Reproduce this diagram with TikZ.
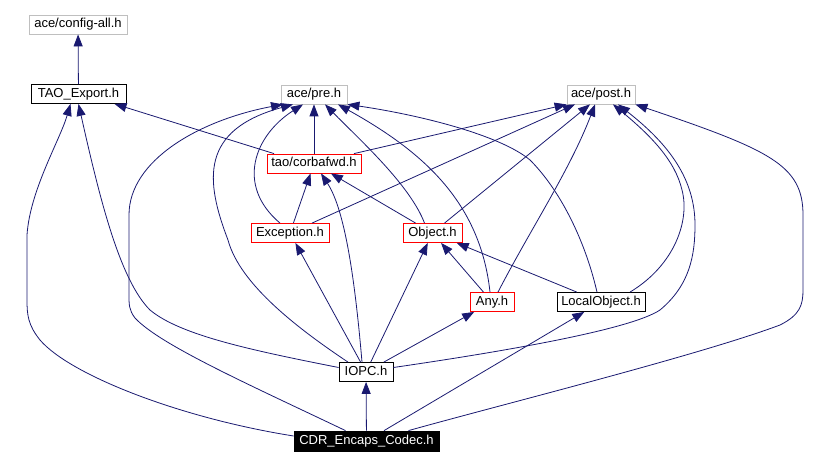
\documentclass[tikz,border=0pt]{standalone}
\usepackage{fontspec}
\setmainfont{Liberation Sans}
\usetikzlibrary{arrows.meta}
\definecolor{edgeblue}{HTML}{191970}
\definecolor{boxgray}{HTML}{BFBFBF}

\begin{document}
\begin{tikzpicture}[x=1pt,y=-1pt,
  file/.style={draw,line width=0.8pt,minimum height=19pt,inner sep=0pt,
    text height=9.4pt,text depth=2.7pt,font=\fontsize{13}{15}\selectfont},
  nodoc/.style={file,draw=boxgray},
  cut/.style={file,draw=red},
  doc/.style={file,draw=black},
  self/.style={file,fill=black,text=white,minimum height=20pt},
  dep/.style={draw=edgeblue,line width=0.8pt,-{Triangle[length=12pt,width=9pt]}}]
\useasboundingbox (0,0) rectangle (830,465);
\node[nodoc,minimum width=98pt] (cfg)  at (78,24.5)   {ace/config-all.h};
\node[doc,minimum width=95pt]   (tao)  at (78.5,94)   {TAO\_Export.h};
\node[nodoc,minimum width=66pt] (pre)  at (314,94.5)  {ace/pre.h};
\node[nodoc,minimum width=68pt] (post) at (601,94.5)  {ace/post.h};
\node[cut,minimum width=94pt]   (fwd)  at (314,163.5) {tao/corbafwd.h};
\node[cut,minimum width=78pt]   (exc)  at (290,233)   {Exception.h};
\node[cut,minimum width=59pt]   (obj)  at (432.5,233) {Object.h};
\node[cut,minimum width=44pt]   (any)  at (492,302)   {Any.h};
\node[doc,minimum width=88pt]   (loc)  at (601,302)   {LocalObject.h};
\node[doc,minimum width=54pt]   (iopc) at (366,372)   {IOPC.h};
\node[self,minimum width=145pt] (cdr)  at (366.5,441) {CDR\_Encaps\_Codec.h};

\foreach \from/\to in {tao/cfg,fwd/pre,exc/fwd,obj/fwd,any/obj,loc/obj,
    iopc/exc,iopc/obj,iopc/any,cdr/iopc,cdr/loc}
  \draw[dep] (\from) -- (\to);

\draw[dep] ([xshift=-40pt]fwd.north) -- ([xshift=36pt]tao.south);
\draw[dep] ([xshift=40pt]fwd.north) -- (post.south west);
\draw[dep] ([xshift=22pt]exc.north) -- ([xshift=-26pt]post.south);
\draw[dep] ([xshift=12pt]obj.north) -- ([xshift=-11pt]post.south);

% into ace/pre.h
\draw[dep] ([xshift=-21pt]cdr.north) .. controls (250,385) and (160,345) .. (135,318)
  .. controls (129,310) and (129,305) .. (129,295) -- (129,215)
  .. controls (129,160) and (200,120) .. ([xshift=-31pt]pre.south);
\draw[dep] ([xshift=-18pt]iopc.north) .. controls (300,330) and (240,285) .. (228,240)
  .. controls (205,180) and (200,130) .. ([xshift=-21pt]pre.south);
\draw[dep] ([xshift=-10pt]exc.north) .. controls (235,185) and (255,135) .. ([xshift=-11pt]pre.south);
\draw[dep] ([xshift=-8pt]obj.north) .. controls (410,185) and (360,140) .. ([xshift=11pt]pre.south);
\draw[dep] ([xshift=-2pt]any.north) .. controls (480,200) and (420,150) .. ([xshift=24pt]pre.south);
\draw[dep] ([xshift=-4pt]loc.north) .. controls (585,240) and (560,190) .. (530,160)
  .. controls (500,135) and (420,115) .. (pre.south east);

% into ace/post.h
\draw[dep] ([xshift=6pt]any.north) .. controls (530,230) and (570,170) .. ([xshift=-6pt]post.south);
\draw[dep] ([xshift=29pt]loc.north) .. controls (675,265) and (690,220) .. (682,190)
  .. controls (675,160) and (650,135) .. ([xshift=12pt]post.south);
\draw[dep] ([yshift=4.5pt]iopc.east) .. controls (500,352) and (630,330) .. (660,310)
  .. controls (690,285) and (695,255) .. (695,225)
  .. controls (695,180) and (670,145) .. ([xshift=17pt]post.south);
\draw[dep] ([xshift=42pt]cdr.north) .. controls (500,405) and (700,355) .. (780,325)
  .. controls (800,315) and (803,305) .. (803,290) -- (803,215)
  .. controls (803,165) and (770,150) .. (post.south east);

% into TAO_Export.h and tao/corbafwd.h
\draw[dep] ([yshift=5pt]cdr.west) .. controls (180,418) and (70,375) .. (40,340)
  .. controls (28,325) and (27,315) .. (27,300) -- (27,235)
  .. controls (30,190) and (60,140) .. ([xshift=-8pt]tao.south);
\draw[dep] ([yshift=4.5pt]iopc.west) .. controls (250,350) and (180,335) .. (150,310)
  .. controls (120,280) and (100,200) .. (tao.south);
\draw[dep] ([xshift=-4pt]iopc.north) .. controls (355,280) and (345,210) .. ([xshift=7pt]fwd.south);
\end{tikzpicture}
\end{document}
